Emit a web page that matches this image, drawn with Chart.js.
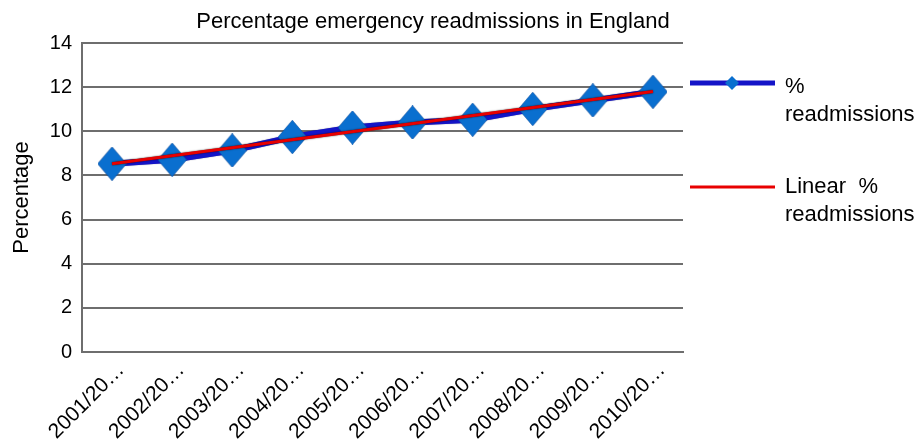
<!DOCTYPE html>
<html>
<head>
<meta charset="utf-8">
<title>Percentage emergency readmissions in England</title>
<script src="https://cdn.jsdelivr.net/npm/chart.js@4/dist/chart.umd.min.js"></script>
<style>
  html, body { margin: 0; padding: 0; background: #ffffff; }
  #wrap { position: relative; width: 918px; height: 443px; }
</style>
</head>
<body>
<div id="wrap"><canvas id="chart" width="918" height="443"></canvas></div>
<script>
// Financial years
const categories = ['2001/2002', '2002/2003', '2003/2004', '2004/2005', '2005/2006',
                    '2006/2007', '2007/2008', '2008/2009', '2009/2010', '2010/2011'];
// Axis labels as shown (truncated)
const tickLabels = ['2001/20…', '2002/20…', '2003/20…', '2004/20…', '2005/20…',
                    '2006/20…', '2007/20…', '2008/20…', '2009/20…', '2010/20…'];
// % of admissions followed by an emergency readmission
const readmissions = [8.53, 8.71, 9.13, 9.74, 10.17, 10.40, 10.52, 11.01, 11.40, 11.79];
// Linear trend line: its two end values
const trendLine = [8.53, null, null, null, null, null, null, null, null, 11.80];
const yTicks = [0, 2, 4, 6, 8, 10, 12, 14];
const seriesNames = ['% readmissions', 'Linear  % readmissions'];
const chartTitle = 'Percentage emergency readmissions in England';
const yTitle = 'Percentage';

const FONT = "'Liberation Sans', Arial, Helvetica, sans-serif";
const BLUE_LINE = '#1414c8';
const BLUE_MARK = '#0a6fcf';
const RED_LINE = '#e80000';

// Diamond marker, slightly taller than wide
function diamond(w, h, color) {
  const c = document.createElement('canvas');
  c.width = w; c.height = h;
  const g = c.getContext('2d');
  g.fillStyle = color;
  g.beginPath();
  g.moveTo(0, h / 2);
  g.lineTo(w / 2, 0);
  g.lineTo(w, h / 2);
  g.lineTo(w / 2, h);
  g.closePath();
  g.fill();
  return c;
}
const marker = diamond(29, 34, BLUE_MARK);

// Wrap words greedily into lines no wider than maxW
function wrapWords(ctx, text, maxW) {
  const words = text.split(' ');
  const lines = [];
  let cur = null;
  for (const w of words) {
    if (cur === null) { cur = w; continue; }
    const test = cur + ' ' + w;
    if (w !== '' && ctx.measureText(test).width > maxW) {
      lines.push(cur);
      cur = w;
    } else {
      cur = test;
    }
  }
  if (cur !== null) lines.push(cur);
  return lines;
}

// Title, right-hand legend and a dark edge under the trend line
const decorations = {
  id: 'decorations',
  beforeDatasetDraw(chart, args) {
    const ctx = chart.ctx;
    ctx.save();
    if (args.index === 1) {
      ctx.shadowColor = 'rgba(0,0,0,0.85)';
      ctx.shadowBlur = 1.5;
    } else {
      ctx.shadowColor = 'rgba(0,0,60,0.6)';
      ctx.shadowBlur = 1;
    }
  },
  afterDatasetDraw(chart) {
    chart.ctx.restore();
  },
  afterDraw(chart) {
    const ctx = chart.ctx;
    ctx.save();
    ctx.fillStyle = '#000';
    ctx.font = '22px ' + FONT;
    ctx.textAlign = 'center';
    ctx.textBaseline = 'alphabetic';
    ctx.fillText(chartTitle, 433, 28);

    // legend
    ctx.font = '22px ' + FONT;
    ctx.textAlign = 'left';
    ctx.textBaseline = 'middle';
    const entries = [
      { lineY: 83, textY: 87, color: BLUE_LINE, width: 5, marker: true },
      { lineY: 187, textY: 187, color: RED_LINE, width: 3, marker: false }
    ];
    entries.forEach((e, i) => {
      ctx.strokeStyle = e.color;
      ctx.lineWidth = e.width;
      ctx.beginPath();
      ctx.moveTo(690, e.lineY);
      ctx.lineTo(775, e.lineY);
      ctx.stroke();
      if (e.marker) {
        const r = 7;
        ctx.fillStyle = BLUE_MARK;
        ctx.beginPath();
        ctx.moveTo(732 - r, e.lineY);
        ctx.lineTo(732, e.lineY - r);
        ctx.lineTo(732 + r, e.lineY);
        ctx.lineTo(732, e.lineY + r);
        ctx.closePath();
        ctx.fill();
      }
      ctx.fillStyle = '#000';
      const lines = wrapWords(ctx, seriesNames[i], 134);
      lines.forEach((ln, k) => ctx.fillText(ln, 785, e.textY + k * 28));
    });
    ctx.restore();
  }
};

new Chart(document.getElementById('chart'), {
  type: 'line',
  data: {
    labels: categories,
    datasets: [
      {
        label: seriesNames[0],
        data: readmissions,
        borderColor: BLUE_LINE,
        borderWidth: 6,
        pointStyle: marker,
        pointRadius: 15,
        pointBackgroundColor: BLUE_MARK,
        pointBorderColor: BLUE_MARK,
        pointBorderWidth: 0,
        tension: 0,
        order: 2
      },
      {
        label: seriesNames[1],
        data: trendLine,
        borderColor: RED_LINE,
        borderWidth: 3,
        pointRadius: 0,
        spanGaps: true,
        tension: 0,
        order: 1
      }
    ]
  },
  options: {
    responsive: false,
    animation: false,
    devicePixelRatio: 1,
    layout: { padding: { top: 43, right: 235, bottom: 0, left: 0 } },
    plugins: {
      legend: { display: false },
      title: { display: false },
      tooltip: { enabled: false }
    },
    scales: {
      x: {
        offset: true,
        grid: { display: false, drawTicks: false },
        border: { display: true, color: '#6e6e6e', width: 2 },
        ticks: {
          color: '#000',
          font: { family: FONT, size: 21 },
          minRotation: 45,
          maxRotation: 45,
          autoSkip: false,
          padding: 6,
          labelOffset: 9,
          callback: (v, i) => tickLabels[i]
        },
        afterFit(scale) { scale.height = 91; }
      },
      y: {
        min: 0,
        max: 14,
        afterBuildTicks(scale) { scale.ticks = yTicks.map(v => ({ value: v })); },
        grid: { color: '#6e6e6e', lineWidth: 2, drawTicks: false },
        border: { display: true, color: '#6e6e6e', width: 2 },
        ticks: {
          color: '#000',
          font: { family: FONT, size: 20 },
          padding: 10
        },
        title: {
          display: true,
          text: yTitle,
          color: '#000',
          font: { family: FONT, size: 22 },
          padding: { top: 9, bottom: 0 }
        },
        afterFit(scale) { scale.width = 82; }
      }
    }
  },
  plugins: [decorations]
});
</script>
</body>
</html>
